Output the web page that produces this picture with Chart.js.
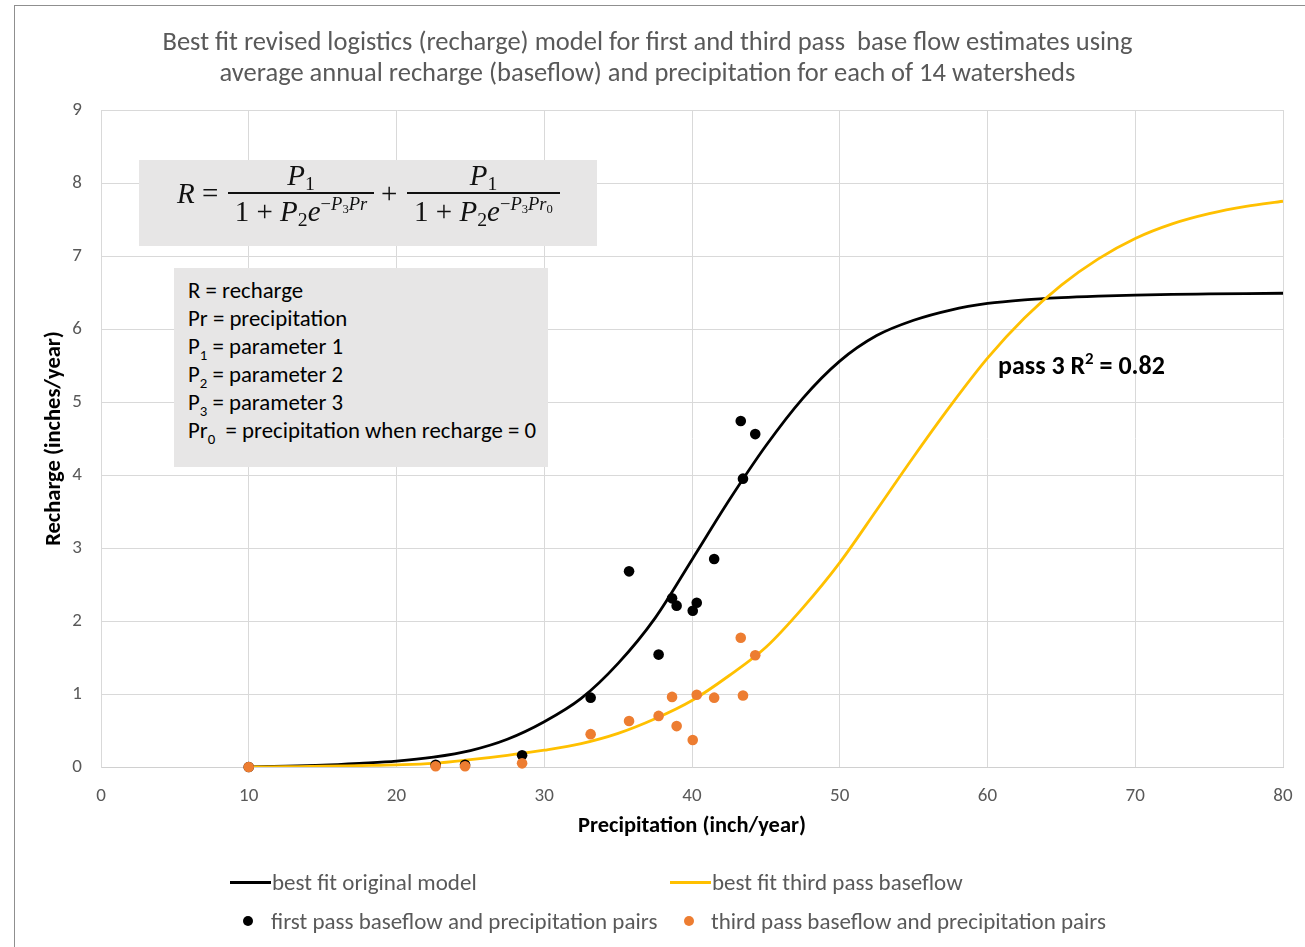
<!DOCTYPE html>
<html>
<head>
<meta charset="utf-8">
<script src="https://cdn.jsdelivr.net/npm/chart.js@4.4.1/dist/chart.umd.min.js"></script>
<style>
html,body{margin:0;padding:0;background:#fff;}
body{width:1305px;height:947px;position:relative;overflow:hidden;font-family:Carlito,Lato,"Open Sans",sans-serif;}
#frame{position:absolute;left:14px;top:5px;width:1400px;height:1000px;border-left:1px solid #8f8f8f;border-top:1px solid #8f8f8f;}
canvas{position:absolute;left:0;top:0;}
.ov{position:absolute;white-space:nowrap;}
#title{left:0;width:1295px;top:26px;text-align:center;color:#595959;font-size:26.5px;line-height:31px;}
#eq{left:139px;top:160px;width:458px;height:86px;background:#e7e6e6;}
.m{position:absolute;font-family:"Liberation Serif","DejaVu Serif",serif;font-size:29px;color:#111;line-height:32px;white-space:nowrap;}
.m i{font-style:italic;}
.m sub{line-height:0;font-size:68%;vertical-align:-0.25em;}
.m sup{line-height:0;font-size:64%;vertical-align:0.6em;}
.m sup sub{font-size:68%;vertical-align:-0.2em;}
.bar{position:absolute;height:1.6px;background:#111;}
#box{left:174px;top:268px;width:374px;height:199px;background:#e7e6e6;}
#box div{position:absolute;left:14px;font-size:22.8px;line-height:28px;color:#000;}
#box sub{font-size:65%;line-height:0;}
#r2{left:998px;top:351px;font-size:26px;font-weight:bold;color:#000;line-height:28px;}
#r2 sup{font-size:65%;line-height:0;}
.lg{position:absolute;font-size:23px;color:#595959;line-height:26px;white-space:nowrap;}
.ln{position:absolute;height:3px;}
.dt{position:absolute;width:10px;height:10px;border-radius:50%;}
</style>
</head>
<body>
<div id="frame"></div>
<canvas id="c" width="1305" height="947"></canvas>

<div id="title" class="ov">Best fit revised logistics (recharge) model for first and third pass&nbsp; base flow estimates using<br>average annual recharge (baseflow) and precipitation for each of 14 watersheds</div>

<div id="eq" class="ov"></div>
<div class="m" style="left:177px;top:177px;"><i>R</i> =</div>
<div class="m" style="left:228px;width:146px;top:159px;text-align:center;"><i>P</i><sub>1</sub></div>
<div class="bar" style="left:228px;width:146px;top:192px;"></div>
<div class="m" style="left:221px;width:160px;top:195px;text-align:center;">1 + <i>P</i><sub>2</sub><i>e</i><sup>−<i>P</i><sub>3</sub><i>Pr</i></sup></div>
<div class="m" style="left:381px;top:177px;">+</div>
<div class="m" style="left:407px;width:153px;top:159px;text-align:center;"><i>P</i><sub>1</sub></div>
<div class="bar" style="left:407px;width:153px;top:192px;"></div>
<div class="m" style="left:400px;width:167px;top:195px;text-align:center;">1 + <i>P</i><sub>2</sub><i>e</i><sup>−<i>P</i><sub>3</sub><i>Pr</i><sub>0</sub></sup></div>

<div id="box" class="ov">
<div style="top:8px;">R = recharge</div>
<div style="top:36px;">Pr = precipitation</div>
<div style="top:64px;">P<sub>1</sub> = parameter 1</div>
<div style="top:92px;">P<sub>2</sub> = parameter 2</div>
<div style="top:120px;">P<sub>3</sub> = parameter 3</div>
<div style="top:148px;">Pr<sub>0</sub> &nbsp;= precipitation when recharge = 0</div>
</div>

<div id="r2" class="ov">pass 3 R<sup>2</sup> = 0.82</div>

<div class="ln" style="left:230px;top:881px;width:41px;background:#000;"></div>
<div class="lg" style="left:272px;top:869px;">best fit original model</div>
<div class="ln" style="left:670px;top:881px;width:41px;background:#FFC000;"></div>
<div class="lg" style="left:712px;top:869px;">best fit third pass baseflow</div>
<div class="dt" style="left:243px;top:916px;background:#000;"></div>
<div class="lg" style="left:271px;top:908px;">first pass baseflow and precipitation pairs</div>
<div class="dt" style="left:684px;top:916px;background:#ED7D31;"></div>
<div class="lg" style="left:711px;top:908px;">third pass baseflow and precipitation pairs</div>

<script>
// ---- data ----
const precipitation = [10, 22.65, 24.64, 28.5, 33.14, 35.74, 37.74, 38.65, 38.96, 40.05, 40.32, 41.5, 43.3, 43.45, 44.28];
const firstPassRecharge = [0, 0.03, 0.03, 0.16, 0.95, 2.68, 1.54, 2.31, 2.21, 2.14, 2.25, 2.85, 4.74, 3.95, 4.56];
const thirdPassRecharge = [0, 0.01, 0.01, 0.05, 0.45, 0.63, 0.70, 0.96, 0.56, 0.37, 0.99, 0.95, 1.77, 0.98, 1.53];

const curvePrecip = [10, 12.5, 15, 17.5, 20, 22.5, 25, 27.5, 30, 32.5, 35, 37.5, 40, 42.5, 45, 47.5, 50, 52.5, 55, 57.5, 60, 62.5, 65, 67.5, 70, 72.5, 75, 77.5, 80];
const originalFit = [0, 0.01, 0.025, 0.05, 0.08, 0.135, 0.225, 0.38, 0.62, 0.94, 1.42, 2.04, 2.84, 3.65, 4.4, 5.05, 5.56, 5.91, 6.12, 6.26, 6.35, 6.4, 6.43, 6.45, 6.465, 6.475, 6.48, 6.485, 6.49];
const thirdPassFit = [0, 0.005, 0.01, 0.02, 0.03, 0.05, 0.1, 0.16, 0.23, 0.32, 0.46, 0.66, 0.91, 1.25, 1.64, 2.18, 2.8, 3.52, 4.25, 4.95, 5.6, 6.15, 6.6, 6.96, 7.24, 7.44, 7.58, 7.68, 7.75];

const xTicks = [0, 10, 20, 30, 40, 50, 60, 70, 80];
const yTicks = [0, 1, 2, 3, 4, 5, 6, 7, 8, 9];

const pts = (xs, ys) => xs.map((x, i) => ({x: x, y: ys[i]}));

Chart.defaults.font.family = 'Carlito, Lato, "Open Sans", sans-serif';

new Chart(document.getElementById('c'), {
  type: 'scatter',
  data: {
    datasets: [
      {label: 'third pass baseflow and precipitation pairs', data: pts(precipitation, thirdPassRecharge),
       backgroundColor: '#ED7D31', borderColor: '#ED7D31', pointRadius: 5.3, pointBorderWidth: 0, clip: false},
      {label: 'first pass baseflow and precipitation pairs', data: pts(precipitation, firstPassRecharge),
       backgroundColor: '#000', borderColor: '#000', pointRadius: 5.3, pointBorderWidth: 0, clip: false},
      {label: 'best fit third pass baseflow', data: pts(curvePrecip, thirdPassFit), showLine: true,
       borderColor: '#FFC000', borderWidth: 2.8, pointRadius: 0, cubicInterpolationMode: 'monotone', fill: false},
      {label: 'best fit original model', data: pts(curvePrecip, originalFit), showLine: true,
       borderColor: '#000', borderWidth: 2.8, pointRadius: 0, cubicInterpolationMode: 'monotone', fill: false}
    ]
  },
  options: {
    responsive: false,
    devicePixelRatio: 1,
    animation: false,
    layout: {padding: {left: 30, right: 22, top: 110, bottom: 100}},
    plugins: {legend: {display: false}, title: {display: false}, tooltip: {enabled: false}},
    scales: {
      x: {
        type: 'linear', min: 0, max: 80,
        afterBuildTicks: s => { s.ticks = xTicks.map(v => ({value: v})); },
        afterFit: s => { s.height = 80; s.paddingLeft = 0; s.paddingRight = 0; },
        grid: {color: '#d9d9d9', lineWidth: 1, drawTicks: false},
        border: {color: '#d0d0d0'},
        ticks: {color: '#595959', font: {size: 19}, padding: 18},
        title: {display: true, text: 'Precipitation (inch/year)', color: '#000', font: {size: 22.5, weight: 'bold'}, padding: {top: 0, bottom: 7.5}}
      },
      y: {
        type: 'linear', min: 0, max: 9,
        afterBuildTicks: s => { s.ticks = yTicks.map(v => ({value: v})); },
        afterFit: s => { s.width = 71; s.paddingTop = 0; s.paddingBottom = 0; },
        grid: {color: '#d9d9d9', lineWidth: 1, drawTicks: false},
        border: {color: '#d9d9d9'},
        ticks: {color: '#595959', font: {size: 19}, padding: 19},
        title: {display: true, text: 'Recharge (inches/year)', color: '#000', font: {size: 22.5, weight: 'bold'}, padding: {top: 10.5, bottom: 0}}
      }
    }
  }
});
</script>
</body>
</html>
